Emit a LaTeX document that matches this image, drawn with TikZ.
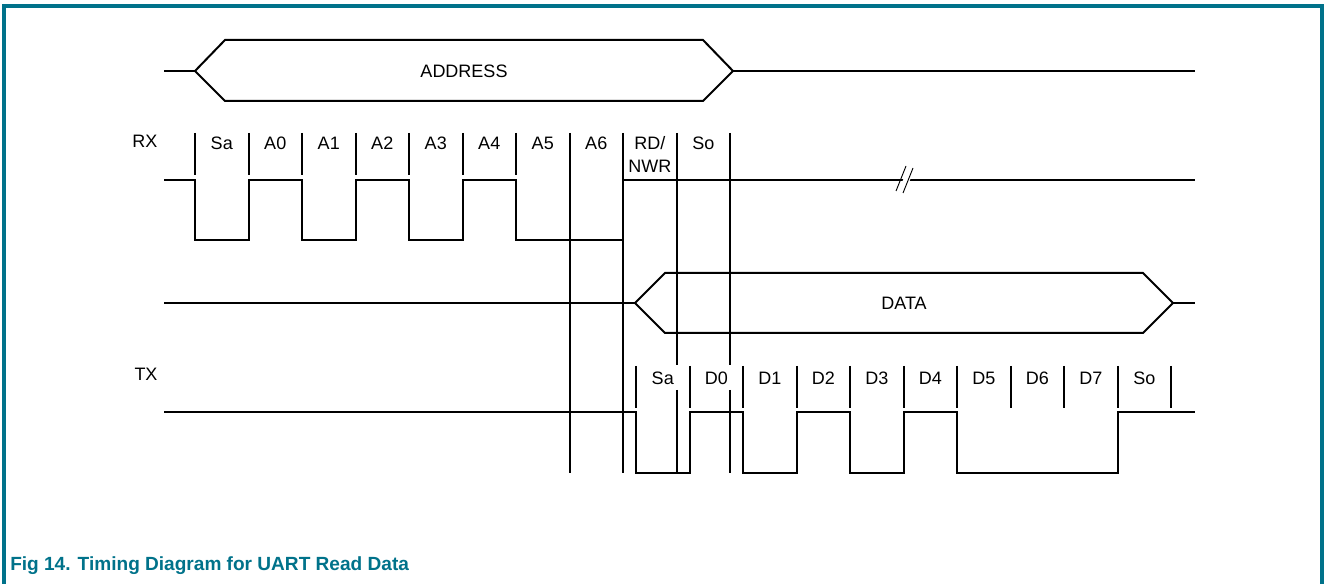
\documentclass[tikz,border=0pt]{standalone}
\usepackage{fontspec}
\setmainfont{Liberation Sans}
\definecolor{nxp}{RGB}{0,114,138}
\begin{document}
\begin{tikzpicture}[x=0.75pt,y=-0.75pt,
  sig/.style={line width=1.5pt,line join=miter},
  tick/.style={line width=1.5pt},
  lbl/.style={font=\fontsize{13.5}{18}\selectfont,inner sep=0pt,align=center}]
\useasboundingbox (0,0) rectangle (1324,584);
% frame
\draw[nxp,line width=3pt] (4,640) -- (4,6) -- (1322,6) -- (1322,640);
% ADDRESS bus
\coordinate (aL) at (164,71);
\coordinate (aR) at (1195,71);
\draw[sig] (195,71) -- (225,40) -- (703,40) -- (733,71) -- (703,101) -- (225,101) -- cycle;
\draw[sig] (aL) -- (195,71);
\draw[sig] (733,71) -- (aR);
\node[lbl] (addr) at (464,71) {ADDRESS};
% labels RX / TX
\node[lbl] (rx) at (145,141) {RX};
\node[lbl] (tx) at (146,374) {TX};
% RX ticks
\foreach \i in {0,...,6}{
  \draw[tick] ({195+53.5*\i},133) -- ({195+53.5*\i},175);
}
\draw[tick] (570,133) -- (570,473);
\draw[tick] (623,133) -- (623,473);
\draw[tick] (677,133) -- (677,365);
\draw[tick] (677,390) -- (677,473);
\draw[tick] (730,133) -- (730,365);
\draw[tick] (730,390) -- (730,473);
% RX labels
\foreach \t [count=\k from 0] in {Sa,A0,A1,A2,A3,A4,A5,A6}{
  \node[lbl] (rx\k) at ({195+53.5*(\k+0.5)},143.5) {\t};
}
\node[lbl,anchor=north] (rxrd) at (649.75,136.5) {RD/\\[-1pt]NWR};
\node[lbl] (rxso) at (703.25,143.5) {So};
% RX waveform
\draw[sig] (164,180) -- (195,180) -- (195,240) -- (248.5,240) -- (248.5,180)
  -- (302,180) -- (302,240) -- (355.5,240) -- (355.5,180) -- (409,180)
  -- (409,240) -- (462.5,240) -- (462.5,180) -- (516,180) -- (516,240)
  -- (623,240) -- (623,180) -- (1195,180);
% break mark
\fill[white] (898,193) -- (908,167) -- (915,167) -- (905,193) -- cycle;
\draw[line width=0.7pt] (896,191) -- (906,166);
\draw[line width=0.7pt] (903,193) -- (913,168);
% DATA bus
\coordinate (dL) at (164,303);
\coordinate (dR) at (1195,303);
\draw[sig] (635,303) -- (665,273) -- (1143,273) -- (1173,303) -- (1143,333) -- (665,333) -- cycle;
\draw[sig] (dL) -- (635,303);
\draw[sig] (1173,303) -- (dR);
\node[lbl] (data) at (904,303) {DATA};
% TX ticks
\foreach \j in {0,...,10}{
  \draw[tick] ({636+53.5*\j},366) -- ({636+53.5*\j},408);
}
\foreach \t [count=\k from 0] in {Sa,D0,D1,D2,D3,D4,D5,D6,D7,So}{
  \node[lbl] (tx\k) at ({636+53.5*(\k+0.5)},378) {\t};
}
% TX waveform
\draw[sig] (164,412) -- (636,412) -- (636,473) -- (689.5,473) -- (689.5,412)
  -- (743,412) -- (743,473) -- (796.5,473) -- (796.5,412) -- (850,412)
  -- (850,473) -- (903.5,473) -- (903.5,412) -- (957,412) -- (957,473)
  -- (1117.5,473) -- (1117.5,412) -- (1195,412);
% caption
\node[anchor=base west,inner sep=0pt,text=nxp,font=\bfseries\fontsize{14.3}{17}\selectfont] (cap) at (10,570) {Fig 14. Timing Diagram for UART Read Data};
\end{tikzpicture}
\end{document}
